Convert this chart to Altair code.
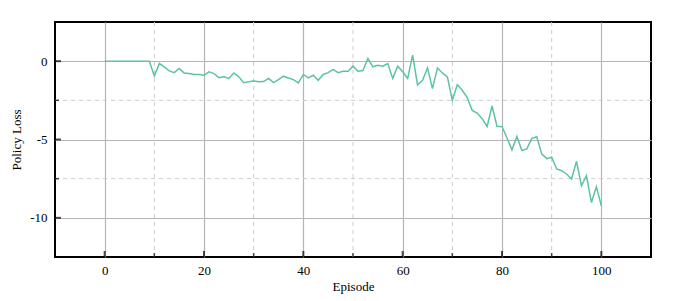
import altair as alt
import pandas as pd

episodes = list(range(0, 101))
policy_loss = [
    0, 0, 0, 0, 0, 0, 0, 0, 0, 0,
    -0.95, -0.15, -0.37, -0.62, -0.73, -0.47, -0.75, -0.79, -0.85, -0.85,
    -0.90, -0.68, -0.79, -1.05, -1.00, -1.10, -0.75, -1.00, -1.37, -1.32,
    -1.26, -1.32, -1.30, -1.10, -1.37, -1.18, -0.96, -1.07, -1.18, -1.39,
    -0.85, -1.07, -0.90, -1.22, -0.85, -0.73, -0.53, -0.73, -0.64, -0.64,
    -0.32, -0.64, -0.60, 0.17, -0.36, -0.26, -0.32, -0.15, -1.10, -0.32,
    -0.68, -1.10, 0.38, -1.52, -1.22, -0.43, -1.75, -0.43, -0.75, -1.00,
    -2.50, -1.50, -1.86, -2.33, -3.14, -3.31, -3.67, -4.17, -2.86, -4.17,
    -4.17, -4.90, -5.66, -4.81, -5.70, -5.60, -4.93, -4.82, -5.92, -6.22,
    -6.13, -6.88, -6.99, -7.20, -7.52, -6.39, -7.95, -7.31, -9.02, -8.01,
    -9.23,
]

x_major = [0, 20, 40, 60, 80, 100]
x_minor = [10, 30, 50, 70, 90]
y_major = [-10, -5, 0]
y_minor = [-7.5, -2.5]
x_domain = [-10, 110]
y_domain = [-12.5, 2.5]

df = pd.DataFrame({"Episode": episodes, "Policy Loss": policy_loss})

def edge_df(vals, edge):
    return pd.DataFrame({"v": vals, "b": [edge] * len(vals)})

FONT = "Liberation Serif"
xscale = alt.Scale(domain=x_domain, nice=False, zero=False)
yscale = alt.Scale(domain=y_domain, nice=False, zero=False)

x_axis = alt.Axis(values=x_major, grid=True, gridColor="#b4b4b4", gridWidth=1.2,
                  ticks=False, domain=False, labelPadding=7, titlePadding=3,
                  labelExpr="'' + datum.value")
y_axis = alt.Axis(values=y_major, grid=True, gridColor="#b4b4b4", gridWidth=1.2,
                  ticks=False, domain=False, labelPadding=8, titlePadding=6,
                  labelExpr="'' + datum.value")

minor_vx = alt.Chart(pd.DataFrame({"v": x_minor})).mark_rule(
    color="#cccccc", strokeDash=[4, 4], strokeWidth=1).encode(x=alt.X("v:Q", scale=xscale))
minor_hy = alt.Chart(pd.DataFrame({"v": y_minor})).mark_rule(
    color="#cccccc", strokeDash=[4, 4], strokeWidth=1).encode(y=alt.Y("v:Q", scale=yscale))

line = alt.Chart(df).mark_line(color="#5cc59d", strokeWidth=1.5).encode(
    x=alt.X("Episode:Q", scale=xscale, axis=x_axis, title="Episode"),
    y=alt.Y("Policy Loss:Q", scale=yscale, axis=y_axis, title="Policy Loss"),
)

def xticks(vals, length, width):
    return alt.Chart(edge_df(vals, y_domain[0])).mark_tick(
        orient="vertical", color="black", size=length, thickness=width, yOffset=-length / 2).encode(
        x=alt.X("v:Q", scale=xscale),
        y=alt.Y("b:Q", scale=yscale),
    )

def yticks(vals, length, width):
    return alt.Chart(edge_df(vals, x_domain[0])).mark_tick(
        orient="horizontal", color="black", size=length, thickness=width, xOffset=length / 2).encode(
        y=alt.Y("v:Q", scale=yscale),
        x=alt.X("b:Q", scale=xscale),
    )

chart = alt.layer(
    minor_vx, minor_hy, line,
    xticks(x_major, 6, 2), xticks(x_minor, 4, 1.5),
    yticks(y_major, 6, 2), yticks(y_minor, 4, 1.5),
).properties(
    width=596, height=235,
    autosize=alt.AutoSizeParams(type="none"),
    padding={"left": 47, "top": 14, "right": 30, "bottom": 44},
).configure_view(stroke="black", strokeWidth=2).configure_axis(
    labelFont=FONT, titleFont=FONT, labelFontSize=13, titleFontSize=13,
    labelColor="black", titleColor="black", titleFontWeight="normal",
)

chart.save("out.html", embed_options={"renderer": "svg", "actions": False})
